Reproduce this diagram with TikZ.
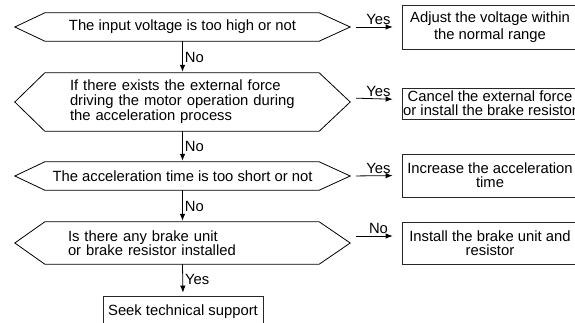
\documentclass[tikz,border=0pt]{standalone}
\usepackage{fontspec}
\setmainfont{Liberation Sans}
\usetikzlibrary{arrows.meta}

\begin{document}
\begin{tikzpicture}[
    x=1pt, y=-1pt,
    font=\fontsize{14.8}{14}\selectfont,
    query/.style={minimum width=335pt, inner sep=0pt},
    answer/.style={draw=black!85, line width=0.8pt, minimum width=176pt,
        inner sep=0pt, align=center},
    flow/.style={-{Latex[length=7pt,width=5.5pt]}, line width=0.8pt},
    lbl/.style={inner sep=2pt}
]
\useasboundingbox (0,0) rectangle (575,323);
% questions
\node[query, minimum height=28pt] (q1) at (182.5,27)
    {The input voltage is too high or not};
\node[query, minimum height=58pt, inner xsep=55pt, text width=225pt, align=left,
      font=\fontsize{14.8}{15}\selectfont] (q2) at (182.5,102)
    {If there exists the external force\\driving the motor operation during\\the acceleration process};
\node[query, minimum height=28pt] (q3) at (182.5,176)
    {The acceleration time is too short or not};
\node[query, minimum height=42pt, inner xsep=53pt, text width=229pt, align=left] (q4) at (182.5,243)
    {Is there any brake unit\\or brake resistor installed};
\foreach \q in {q1,q2,q3,q4}
    \draw[line width=0.8pt] (\q.west) -- ([xshift=30pt]\q.north west)
        -- ([xshift=-31pt]\q.north east) -- (\q.east)
        -- ([xshift=-31pt]\q.south east) -- ([xshift=30pt]\q.south west) -- cycle;
% answers
\node[answer, minimum height=44pt, font=\fontsize{14.8}{17}\selectfont] (a1) at (490,27)
    {Adjust the voltage within\\the normal range};
\node[answer, minimum height=31pt] (a2) at (490,103.5)
    {Cancel the external force\\or install the brake resistor};
\node[answer, minimum height=43pt] (a3) at (490,175.5)
    {Increase the acceleration\\time};
\node[answer, minimum height=42pt] (a4) at (490,243)
    {Install the brake unit and\\resistor};
\node[answer, minimum width=160pt, minimum height=32pt] (a5) at (183,312)
    {Seek technical support};
% connectors
\draw[flow, shorten <=6pt, shorten >=9pt] (q1.east) -- node[lbl, above, pos=0.55] {Yes} (a1.west);
\draw[flow, shorten <=6pt, shorten >=9pt] ([yshift=4pt]q2.east) -- node[lbl, above, pos=0.55] {Yes} ([yshift=4pt]a2.west);
\draw[flow, shorten <=6pt, shorten >=9pt] (q3.east) -- node[lbl, above, pos=0.55] {Yes} (a3.west);
\draw[flow, shorten <=6pt, shorten >=9pt] ([yshift=7pt]q4.east) -- node[lbl, above, pos=0.55] {No} ([yshift=7pt]a4.west);
\draw[flow, shorten >=1pt] (q1.south) -- node[lbl, right] {No} (q2.north);
\draw[flow, shorten >=1pt] (q2.south) -- node[lbl, right] {No} (q3.north);
\draw[flow, shorten >=1pt] (q3.south) -- node[lbl, right] {No} (q4.north);
\draw[flow, shorten >=3pt] (q4.south) -- node[lbl, right] {Yes} (a5.north);
\end{tikzpicture}
\end{document}
